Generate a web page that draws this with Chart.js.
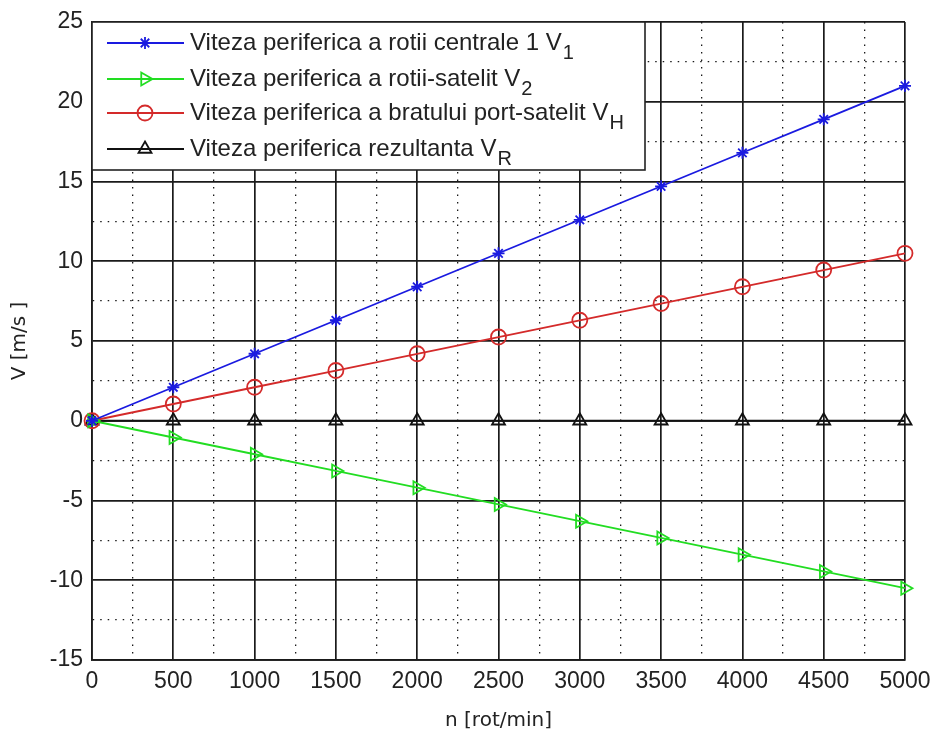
<!DOCTYPE html>
<html>
<head>
<meta charset="utf-8">
<script src="https://cdn.jsdelivr.net/npm/chart.js@4"></script>
<style>
  html, body { margin: 0; padding: 0; background: #fff; }
  #wrap { width: 931px; height: 733px; }
</style>
</head>
<body>
<div id="wrap"><canvas id="vitezeChart" width="931" height="733"></canvas></div>
<script>
// turatia n [rot/min]
const rpm = [0, 500, 1000, 1500, 2000, 2500, 3000, 3500, 4000, 4500, 5000];
// vitezele periferice [m/s]
const v1 = [0, 2.1, 4.2, 6.3, 8.4, 10.5, 12.6, 14.7, 16.8, 18.9, 21.0];
const v2 = [0, -1.05, -2.1, -3.15, -4.2, -5.25, -6.3, -7.35, -8.4, -9.45, -10.5];
const vH = [0, 1.05, 2.1, 3.15, 4.2, 5.25, 6.3, 7.35, 8.4, 9.45, 10.5];
const vR = [0, 0, 0, 0, 0, 0, 0, 0, 0, 0, 0];

const xTicks = [0, 500, 1000, 1500, 2000, 2500, 3000, 3500, 4000, 4500, 5000];
const yTicks = [-15, -10, -5, 0, 5, 10, 15, 20, 25];

const legendItems = [
    { text: 'Viteza periferica a rotii centrale 1 V', sub: '1', color: '#1a1ae0', style: 'star', rot: 0 },
    { text: 'Viteza periferica a rotii-satelit V', sub: '2', color: '#22dd22', style: 'triangle', rot: 90 },
    { text: 'Viteza periferica a bratului port-satelit V', sub: 'H', color: '#d42a2a', style: 'circle', rot: 0 },
    { text: 'Viteza periferica rezultanta V', sub: 'R', color: '#111111', style: 'triangle', rot: 0 }
];

const FONT = '"Liberation Sans", Arial, sans-serif';
const TITLE_FONT = '"DejaVu Sans", Verdana, sans-serif';

function toPoints(ys) {
    return rpm.map((n, i) => ({ x: n, y: ys[i] }));
}

function makeSet(label, ys, item) {
    return {
        label: label,
        data: toPoints(ys),
        borderColor: item.color,
        backgroundColor: 'rgba(0,0,0,0)',
        pointBorderColor: item.color,
        pointBackgroundColor: 'rgba(0,0,0,0)',
        pointStyle: item.style,
        rotation: item.rot,
        pointRadius: item.style === 'star' ? 6 : 7.5,
        pointBorderWidth: 1.8,
        borderWidth: 1.8,
        tension: 0,
        clip: 12
    };
}

// legenda in stil MATLAB, cu indici
const matlabLegend = {
    id: 'matlabLegend',
    afterDraw(chart) {
        const ctx = chart.ctx;
        const area = chart.chartArea;
        const left = area.left, top = area.top;
        const w = 645 - left, h = 170 - top;
        ctx.save();
        ctx.fillStyle = '#fff';
        ctx.fillRect(left, top, w, h);
        ctx.strokeStyle = '#222';
        ctx.lineWidth = 1.6;
        ctx.strokeRect(left, top, w, h);
        const rows = [43, 79, 113, 149];
        legendItems.forEach((it, i) => {
            const y = rows[i];
            ctx.strokeStyle = it.color;
            ctx.lineWidth = 1.8;
            ctx.beginPath();
            ctx.moveTo(107, y);
            ctx.lineTo(184, y);
            ctx.stroke();
            ctx.fillStyle = 'rgba(0,0,0,0)';
            Chart.helpers.drawPoint(ctx, {
                pointStyle: it.style,
                rotation: it.rot,
                radius: it.style === 'star' ? 6 : 7.5,
                borderWidth: 1.8
            }, 145, y);
            ctx.fillStyle = '#222';
            ctx.font = '24px ' + FONT;
            ctx.textBaseline = 'middle';
            ctx.textAlign = 'left';
            ctx.fillText(it.text, 190, y);
            const tw = ctx.measureText(it.text).width;
            ctx.font = '20px ' + FONT;
            ctx.fillText(it.sub, 190 + tw + 1, y + 10);
        });
        ctx.restore();
    }
};

const ctx = document.getElementById('vitezeChart').getContext('2d');

new Chart(ctx, {
    type: 'line',
    data: {
        datasets: [
            makeSet('V1', v1, legendItems[0]),
            makeSet('V2', v2, legendItems[1]),
            makeSet('VH', vH, legendItems[2]),
            makeSet('VR', vR, legendItems[3])
        ]
    },
    options: {
        responsive: false,
        animation: false,
        layout: { padding: { top: 22, right: 26, left: 0, bottom: 0 } },
        plugins: {
            legend: { display: false },
            tooltip: { enabled: false }
        },
        scales: {
            x: {
                type: 'linear',
                min: 0,
                max: 5000,
                afterFit: s => {
                    s.height = 73;
                    s.paddingLeft = 0;
                    s.paddingRight = 0;
                },
                afterBuildTicks: s => {
                    const t = [];
                    for (let v = 0; v <= 5000; v += 250) t.push({ value: v });
                    s.ticks = t;
                },
                ticks: {
                    color: '#222',
                    font: { family: FONT, size: 23 },
                    padding: 8,
                    maxRotation: 0,
                    autoSkip: false,
                    callback: v => xTicks.includes(v) ? String(v) : ''
                },
                grid: {
                    drawTicks: false,
                    color: '#1a1a1a',
                    lineWidth: c => (c.tick && c.tick.value % 500 === 0) ? 1.7 : 1.3
                },
                border: {
                    color: '#1a1a1a',
                    width: 1.7,
                    dash: c => (c.tick && c.tick.value % 500 !== 0) ? [1.5, 6] : []
                },
                title: {
                    display: true,
                    text: 'n [rot/min]',
                    color: '#222',
                    font: { family: TITLE_FONT, size: 20 },
                    padding: { top: 4, bottom: 0 }
                }
            },
            y: {
                type: 'linear',
                min: -15,
                max: 25,
                afterFit: s => {
                    s.width = 92;
                    s.paddingTop = 0;
                    s.paddingBottom = 0;
                },
                afterBuildTicks: s => {
                    const t = [];
                    for (let v = -15; v <= 25; v += 2.5) t.push({ value: v });
                    s.ticks = t;
                },
                ticks: {
                    color: '#222',
                    font: { family: FONT, size: 23 },
                    padding: 9,
                    autoSkip: false,
                    callback: v => yTicks.includes(v) ? String(v) : ''
                },
                grid: {
                    drawTicks: false,
                    color: '#1a1a1a',
                    lineWidth: c => (c.tick && c.tick.value % 5 === 0) ? 1.7 : 1.3
                },
                border: {
                    color: '#1a1a1a',
                    width: 1.7,
                    dash: c => (c.tick && c.tick.value % 5 !== 0) ? [1.5, 6] : []
                },
                title: {
                    display: true,
                    text: 'V [m/s ]',
                    color: '#222',
                    font: { family: TITLE_FONT, size: 20 },
                    padding: { top: 8, bottom: 4 }
                }
            }
        }
    },
    plugins: [matlabLegend]
});
</script>
</body>
</html>
